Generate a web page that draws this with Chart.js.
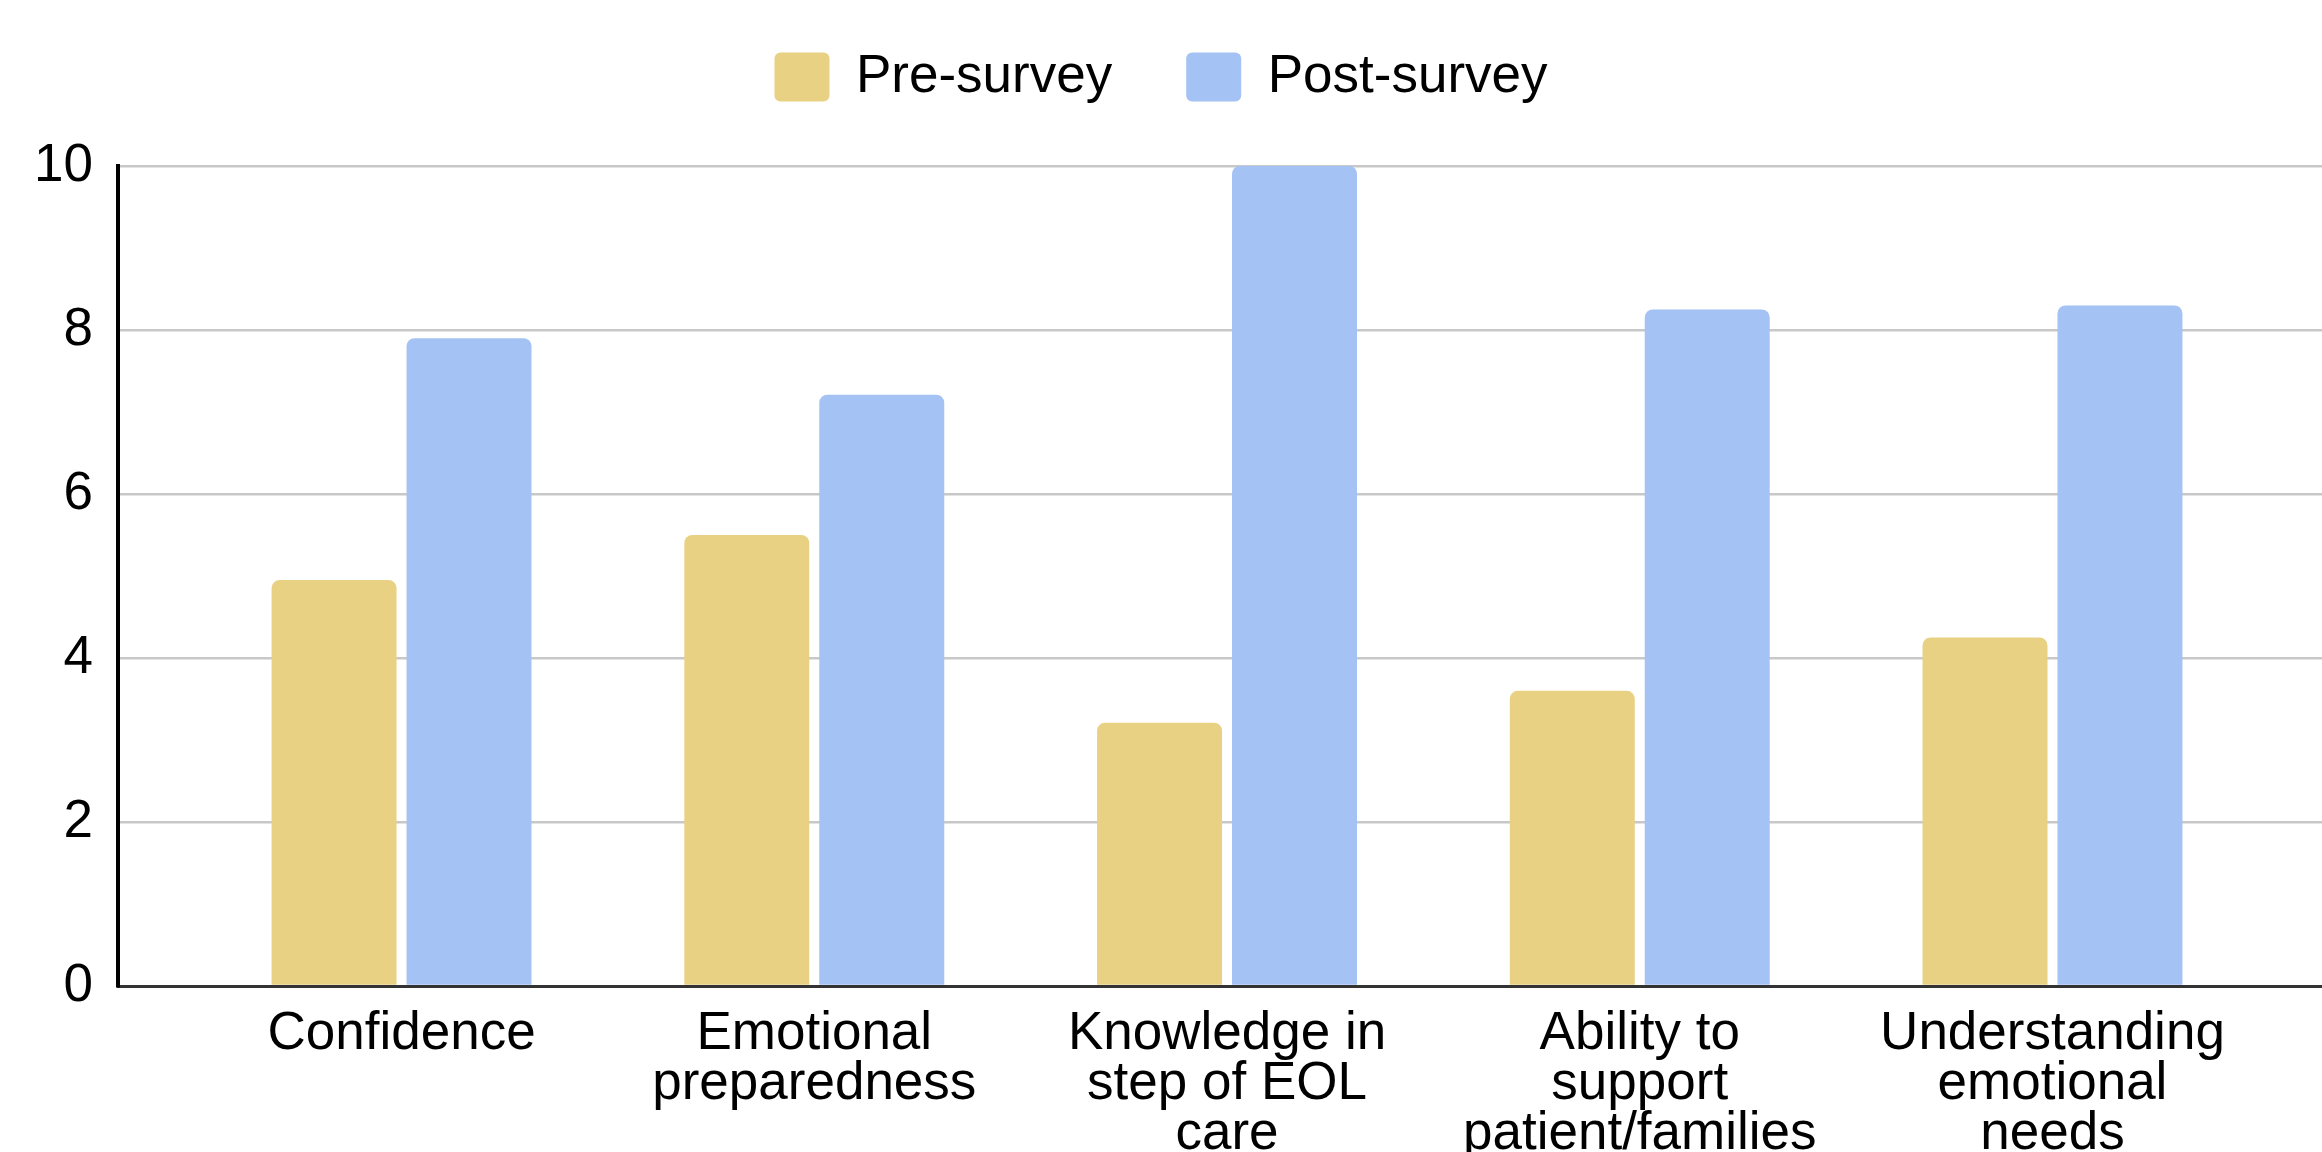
<!DOCTYPE html>
<html>
<head>
<meta charset="utf-8">
<script src="https://cdn.jsdelivr.net/npm/chart.js@4/dist/chart.umd.min.js"></script>
<style>
  html, body { margin: 0; padding: 0; background: #ffffff; overflow: hidden; }
  #wrap { width: 2322px; height: 1152px; position: relative; }
</style>
</head>
<body>
<div id="wrap"><canvas id="c"></canvas></div>
<script>
// ---- data ----
const categories = ["Confidence", "Emotional preparedness", "Knowledge in step of EOL care", "Ability to support patient/families", "Understanding emotional needs"];
const categoryLines = [
  ["Confidence"],
  ["Emotional", "preparedness"],
  ["Knowledge in", "step of EOL", "care"],
  ["Ability to", "support", "patient/families"],
  ["Understanding", "emotional", "needs"]
];
const seriesNames = ["Pre-survey", "Post-survey"];
const preSurvey = [4.95, 5.5, 3.21, 3.6, 4.25];
const postSurvey = [7.9, 7.21, 10, 8.25, 8.3];
const yTicks = [0, 2, 4, 6, 8, 10];

// ---- styles ----
const FONT = "'Liberation Sans', Arial, sans-serif";
const preColor = "#e9d184";
const postColor = "#a4c2f4";

const legendFitPlugin = {
  id: 'legendFit',
  afterInit(chart) {
    const lg = chart.legend;
    if (!lg) return;
    const orig = lg.fit;
    lg.fit = function () {
      orig.call(this);
      this.height = 189.5;
    };
  }
};

const toPoints = arr => arr.map((v, i) => ({ x: i, y: v }));

new Chart(document.getElementById('c'), {
  type: 'bar',
  data: {
    datasets: [
      {
        label: seriesNames[0],
        data: toPoints(preSurvey),
        backgroundColor: preColor,
        borderWidth: 0,
        borderRadius: { topLeft: 8, topRight: 8, bottomLeft: 0, bottomRight: 0 },
        borderSkipped: 'start',
        categoryPercentage: 0.654,
        barPercentage: 0.926
      },
      {
        label: seriesNames[1],
        data: toPoints(postSurvey),
        backgroundColor: postColor,
        borderWidth: 0,
        borderRadius: { topLeft: 8, topRight: 8, bottomLeft: 0, bottomRight: 0 },
        borderSkipped: 'start',
        categoryPercentage: 0.654,
        barPercentage: 0.926
      }
    ]
  },
  options: {
    responsive: true,
    maintainAspectRatio: false,
    animation: false,
    devicePixelRatio: 1,
    layout: { padding: { top: -23.5, left: 0, right: 0, bottom: 0 } },
    plugins: {
      tooltip: { enabled: false },
      legend: {
        position: 'top',
        align: 'center',
        labels: {
          boxWidth: 55,
          boxHeight: 49,
          padding: 74,
          color: '#000000',
          useBorderRadius: true,
          borderRadius: 6,
          font: { family: FONT, size: 53 }
        }
      }
    },
    scales: {
      x: {
        type: 'linear',
        min: -0.687,
        max: 4.653,
        offset: false,
        afterBuildTicks: (scale) => {
          scale.ticks = categories.map((c, i) => ({ value: i }));
        },
        afterFit: (scale) => { scale.height = 166; },
        grid: { display: false, drawTicks: false },
        border: { display: true, color: '#333333', width: 3 },
        ticks: {
          autoSkip: false,
          maxRotation: 0,
          minRotation: 0,
          padding: 23,
          color: '#000000',
          font: { family: FONT, size: 53, lineHeight: '50px' },
          callback: (value) => categoryLines[value] || ''
        }
      },
      y: {
        min: 0,
        max: 10,
        afterBuildTicks: (scale) => {
          scale.ticks = yTicks.map(v => ({ value: v }));
        },
        afterFit: (scale) => { scale.width = 118; },
        grid: { color: '#c8c8c8', lineWidth: 2.5, drawTicks: false },
        border: { display: true, color: '#000000', width: 4 },
        ticks: {
          padding: 25,
          color: '#000000',
          font: { family: FONT, size: 53 }
        }
      }
    }
  },
  plugins: [legendFitPlugin]
});
</script>
</body>
</html>
